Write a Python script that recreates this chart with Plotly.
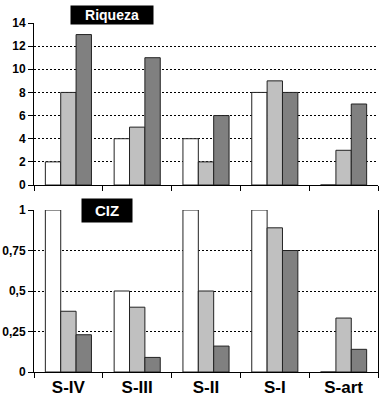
import plotly.graph_objects as go
from plotly.subplots import make_subplots

categories = ["S-IV", "S-III", "S-II", "S-I", "S-art"]

# Riqueza (top panel)
riq_a = [2, 4, 4, 8, 0]
riq_b = [8, 5, 2, 9, 3]
riq_c = [13, 11, 6, 8, 7]

# CIZ (bottom panel)
ciz_a = [1, 0.5, 1, 1, 0]
ciz_b = [0.375, 0.4, 0.5, 0.89, 0.333]
ciz_c = [0.23, 0.09, 0.16, 0.75, 0.14]

riq_ticks = [0, 2, 4, 6, 8, 10, 12, 14]
ciz_tickvals = [0, 0.25, 0.5, 0.75, 1]
ciz_ticktext = ["0", "0,25", "0,5", "0,75", "1"]

colors = ["#FFFFFF", "#C0C0C0", "#808080"]

fig = make_subplots(rows=2, cols=1, shared_xaxes=False, vertical_spacing=0.0)

for vals, col in zip([riq_a, riq_b, riq_c], colors):
    fig.add_trace(go.Bar(x=categories, y=vals, marker=dict(color=col, line=dict(color="#222222", width=1)),
                         showlegend=False, hoverinfo="skip"), row=1, col=1)
for vals, col in zip([ciz_a, ciz_b, ciz_c], colors):
    fig.add_trace(go.Bar(x=categories, y=vals, marker=dict(color=col, line=dict(color="#222222", width=1)),
                         showlegend=False, hoverinfo="skip"), row=2, col=1)

W, H = 379, 398
L, R, T, B = 34, 1, 23, 26
ph = H - T - B  # 349
top_dom = [(372 - 185) / ph, 1.0]
bot_dom = [0.0, 162 / ph]

FONT = "Liberation Sans, Arial"
tickfont = dict(family=FONT, size=12, color="black", weight="bold")

fig.update_layout(
    width=W, height=H,
    margin=dict(l=L, r=R, t=T, b=B),
    paper_bgcolor="white", plot_bgcolor="white",
    barmode="group", bargap=0.33, bargroupgap=0,
    font=dict(family=FONT, color="black"),
)

common_x = dict(showline=True, linecolor="black", linewidth=1, ticks="outside", ticklen=5,
                tickcolor="black", tickson="boundaries", showgrid=False)
fig.update_xaxes(**common_x, showticklabels=False, row=1, col=1)
fig.update_xaxes(**common_x, showticklabels=True,
                 tickfont=dict(family=FONT, size=17, color="black", weight="bold"),
                 row=2, col=1)

common_y = dict(showline=True, linecolor="black", linewidth=1, ticks="outside", ticklen=5,
                tickcolor="black", showgrid=True, gridcolor="black", griddash="2px,2px", gridwidth=1,
                zeroline=False, tickfont=tickfont)
fig.update_yaxes(domain=top_dom, range=[0, 14], tickvals=riq_ticks, **common_y, row=1, col=1)
fig.update_yaxes(domain=bot_dom, range=[0, 1], tickvals=ciz_tickvals, ticktext=ciz_ticktext,
                 mirror=True, **common_y, row=2, col=1)

# panel labels
fig.add_annotation(text="<b>Riqueza</b>", xref="paper", yref="paper",
                   x=(112 - L) / (W - L - R), y=(372 - 15) / ph, showarrow=False,
                   xanchor="center", yanchor="middle", bgcolor="black",
                   font=dict(family=FONT, size=14, color="white"),
                   width=82, height=18, borderpad=0)
fig.add_annotation(text="<b>CIZ</b>", xref="paper", yref="paper",
                   x=(107 - L) / (W - L - R), y=(372 - 210.5) / ph, showarrow=False,
                   xanchor="center", yanchor="middle", bgcolor="black",
                   font=dict(family=FONT, size=15, color="white"),
                   width=50, height=23, borderpad=0)

fig.write_html("out.html", config={"displayModeBar": False},
               post_script="document.body.style.margin='0';document.body.style.padding='0';")
